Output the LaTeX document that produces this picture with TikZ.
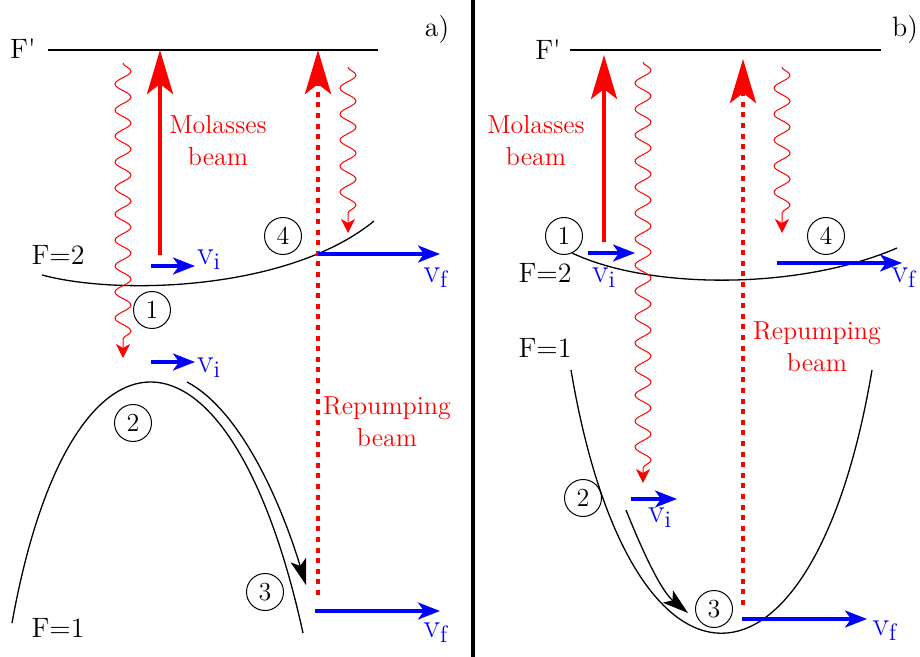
\documentclass[tikz,border=0pt]{standalone}
\usetikzlibrary{arrows.meta,decorations.pathmorphing}
\begin{document}
\begin{tikzpicture}[x=0.5pt,y=-0.5pt,
lvl/.style={font=\fontsize{14}{16}\selectfont},
beamtxt/.style={red,align=center,font=\fontsize{13}{16}\selectfont},
num/.style={draw,circle,line width=0.5pt,inner sep=0pt,minimum size=18.5pt,font=\fontsize{13}{14}\selectfont},
vel/.style={blue,font=\fontsize{17}{18}\selectfont},
pot/.style={line width=0.65pt},
beam/.style={red,line width=2pt,-{Stealth[length=22pt,width=13pt,inset=5pt]}},
repump/.style={beam,line width=2.3pt,dash pattern=on 2.5pt off 2.8pt},
photon/.style={red,line width=0.5pt,decorate,decoration={snake,amplitude=4pt,segment length=13pt,post length=5pt},-{Stealth[length=7pt,width=7pt,inset=2pt]}},
kick/.style={blue,line width=1.6pt,-{Stealth[length=11pt,width=8.5pt,inset=3pt]}},
slide/.style={pot,-{Stealth[length=13pt,width=8pt,inset=3pt]}}]
\useasboundingbox (0,0) rectangle (920,657);
\draw[line width=2.2pt] (473,0)--(473,657);
% a)
\node[lvl] (fpa) at (23,49) {F\textquotesingle};
\node[lvl] (pa) at (437,30) {a)};
\node[lvl] (f2a) at (58,255) {F=2};
\node[lvl] (f1a) at (58,628) {F=1};
\draw[line width=0.75pt] (48,50)--(378,50);
\draw[pot] (42,275) .. controls (120,296) and (290,290) .. (374,221);
\draw[pot] (12,623) .. controls (70,300) and (230,300) .. (303,633);
\draw[slide] (187,382) .. controls (240,410) and (280,500) .. (306,585);
\draw[beam] (160,255)--(160,50);
\draw[repump] (318,595)--(318,50);
\draw[photon] (123,63)--(123,358);
\draw[photon] (348,67)--(348,233);
\draw[kick] (151,266)--(195,266);
\draw[kick] (151,362)--(195,362);
\draw[kick] (318,254)--(440,254);
\draw[kick] (315,611)--(440,611);
\node[beamtxt] (mola) at (218,141) {Molasses\\beam};
\node[beamtxt] (repa) at (387,422) {Repumping\\beam};
\node[vel] (via) at (209,260) {v\textsubscript{i}};
\node[vel] (vib) at (209,368) {v\textsubscript{i}};
\node[vel] (vfa) at (436,278) {v\textsubscript{f}};
\node[vel] (vfb) at (436,633) {v\textsubscript{f}};
\node[num] (n1a) at (152,310) {1};
\node[num] (n2a) at (133,423) {2};
\node[num] (n3a) at (265,592) {3};
\node[num] (n4a) at (283,236) {4};
% b)
\node[lvl] (fpb) at (548,50) {F\textquotesingle};
\node[lvl] (pb) at (905,30) {b)};
\node[lvl] (f2b) at (545,273) {F=2};
\node[lvl] (f1b) at (545,348) {F=1};
\draw[line width=0.75pt] (570,50)--(881,50);
\draw[pot] (572,253) .. controls (650,290) and (800,290) .. (897,248);
\draw[pot] (571,370) .. controls (630,721) and (813,721) .. (872,370);
\draw[slide] (626,510) .. controls (640,545) and (660,590) .. (688,613);
\draw[beam] (604,242)--(604,55);
\draw[repump] (743,605)--(743,59);
\draw[photon] (643,62)--(643,483);
\draw[photon] (782,67)--(782,233);
\draw[kick] (588,253)--(635,253);
\draw[kick] (631,499)--(677,499);
\draw[kick] (777,263)--(902,263);
\draw[kick] (742,619)--(867,619);
\node[beamtxt] (molb) at (536,141) {Molasses\\beam};
\node[beamtxt] (repb) at (817,347) {Repumping\\beam};
\node[vel] (vic) at (604,278) {v\textsubscript{i}};
\node[vel] (vid) at (660,518) {v\textsubscript{i}};
\node[vel] (vfc) at (904,278) {v\textsubscript{f}};
\node[vel] (vfd) at (885,631) {v\textsubscript{f}};
\node[num] (n1b) at (564,236) {1};
\node[num] (n2b) at (583,498) {2};
\node[num] (n3b) at (714,609) {3};
\node[num] (n4b) at (826,236) {4};
\end{tikzpicture}
\end{document}
